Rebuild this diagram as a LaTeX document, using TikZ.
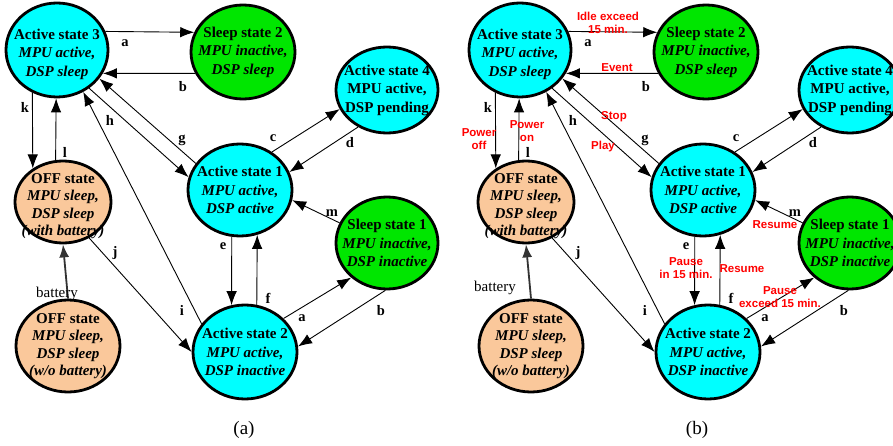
\documentclass[tikz,border=0pt]{standalone}
\usepackage{fontspec}
\setmainfont{Liberation Serif}
\newfontfamily\labelsans{Liberation Sans}
\usetikzlibrary{shapes.geometric,arrows.meta}

\definecolor{stcyan}{HTML}{00FFFF}
\definecolor{stgreen}{HTML}{00E600}
\definecolor{stpeach}{HTML}{FAC89B}
\definecolor{batgray}{HTML}{333333}

\tikzset{
  stbox/.style={ellipse, draw=black, line width=2.8pt, inner sep=0pt},
  sttxt/.style={align=center, inner sep=0pt, font=\fontsize{15}{18.5}\selectfont\bfseries},
  offtxt/.style={align=center, inner sep=0pt, font=\fontsize{15}{17.5}\selectfont\bfseries\itshape},
  edge/.style={line width=0.9pt, -{Latex[length=14pt,width=10.5pt]}},
  batedge/.style={line width=1.8pt, draw=batgray, -{Latex[length=13pt,width=10pt]}},
  lbl/.style={inner sep=0pt, font=\fontsize{14.5}{14.5}\selectfont\bfseries},
  ev/.style={inner sep=0pt, align=center, text=red, font=\labelsans\fontsize{11.5}{13.5}\selectfont\bfseries},
  plain/.style={inner sep=0pt, font=\fontsize{15}{15}\selectfont},
  caption/.style={inner sep=0pt, font=\fontsize{19}{19}\selectfont},
}

\newcommand\fsm[1]{%
  % states
  \node[stbox, fill=stcyan, minimum width=102pt, minimum height=94pt] (#1A3) at (57,50) {};
  \node[sttxt] (#1A3t) at (57,54) {Active state 3\\{\itshape MPU active,}\\{\itshape DSP sleep}};
  \node[stbox, fill=stgreen, minimum width=104pt, minimum height=94pt] (#1S2) at (243,52) {};
  \node[sttxt] (#1S2t) at (#1S2) {Sleep state 2\\{\itshape MPU inactive,}\\{\itshape DSP sleep}};
  \node[stbox, fill=stcyan, minimum width=102pt, minimum height=86pt] (#1A4) at (387,90) {};
  \node[sttxt] (#1A4t) at (#1A4) {Active state 4\\MPU active,\\DSP pending};
  \node[stbox, fill=stcyan, minimum width=104pt, minimum height=92pt] (#1A1) at (240,190) {};
  \node[sttxt] (#1A1t) at (#1A1) {Active state 1\\{\itshape MPU active,}\\{\itshape DSP active}};
  \node[stbox, fill=stgreen, minimum width=102pt, minimum height=92pt] (#1S1) at (387,243) {};
  \node[sttxt] (#1S1t) at (#1S1) {Sleep state 1\\{\itshape MPU inactive,}\\{\itshape DSP inactive}};
  \node[stbox, fill=stcyan, minimum width=104pt, minimum height=94pt] (#1A2) at (245,352) {};
  \node[sttxt] (#1A2t) at (#1A2) {Active state 2\\{\itshape MPU active,}\\{\itshape DSP inactive}};
  \node[stbox, fill=stpeach, minimum width=96pt, minimum height=82pt] (#1O1) at (63,202) {};
  \node[offtxt] (#1O1t) at (63,206) {{\upshape OFF state}\\MPU sleep,\\DSP sleep\\(with battery)};
  \node[stbox, fill=stpeach, minimum width=104pt, minimum height=92pt] (#1O2) at (68,346) {};
  \node[offtxt] (#1O2t) at (#1O2) {{\upshape OFF state}\\MPU sleep,\\DSP sleep\\(w/o battery)};
  % transitions
  \draw[edge] (#1A3.21) -- (#1S2.158);
  \draw[edge] (#1S2.204) -- (#1A3.333);
  \draw[edge] (#1A3.240) -- (#1O1.132);
  \draw[edge] (#1O1.100) -- (#1A3.269);
  \draw[edge] (#1A3.310) -- (#1A1.166);
  \draw[edge] (#1A1.149) -- (#1A3.326);
  \draw[edge] (#1A2.147) -- (#1A3.302);
  \draw[edge] (#1O1.306) -- (#1A2.180);
  \draw[edge] (#1A1.50) -- (#1A4.202);
  \draw[edge] (#1A4.232) -- (#1A1.20);
  \draw[edge] (#1S1.157) -- (#1A1.349);
  \draw[edge] (#1A1.260) -- (#1A2.106);
  \draw[edge] (#1A2.76) -- (#1A1.291);
  \draw[edge] (#1A2.41) -- (#1S1.224);
  \draw[edge] (#1S1.268) -- (#1A2.6);
  \draw[batedge] (#1O2.90) -- (#1O1.270);
  % letters
  \node[lbl] (#1la) at (125,43) {a};
  \node[lbl] (#1lb) at (183,87) {b};
  \node[lbl] (#1lk) at (25,107) {k};
  \node[lbl] (#1ll) at (65,152) {l};
  \node[lbl] (#1lh) at (110,120) {h};
  \node[lbl] (#1lg) at (182,140) {g};
  \node[lbl] (#1li) at (182,310) {i};
  \node[lbl] (#1lj) at (115,253) {j};
  \node[lbl] (#1lc) at (273,138) {c};
  \node[lbl] (#1ld) at (350,143) {d};
  \node[lbl] (#1lm) at (332,213) {m};
  \node[lbl] (#1le) at (223,246) {e};
  \node[lbl] (#1lf) at (268,298) {f};
  \node[lbl] (#1lat) at (302,318) {a};
  \node[lbl] (#1lbt) at (381,311) {b};
}

\begin{document}
\begin{tikzpicture}[x=1pt,y=-1pt]
  \useasboundingbox (0,0) rectangle (893,446);
  \clip (0,0) rectangle (893,446);
  \fsm{L}
  \node[plain] (Lbat) at (57,294) {battery};
  \node[caption] (capa) at (244,430) {(a)};
  \begin{scope}[xshift=463pt]
    \fsm{R}
    \node[ev] (evidle) at (145,23) {Idle exceed\\15 min.};
    \node[ev] (evevent) at (154,68) {Event};
    \node[ev] (evpoff) at (16,139) {Power\\off};
    \node[ev] (evpon) at (64,131) {Power\\on};
    \node[ev] (evstop) at (151,117) {Stop};
    \node[ev] (evplay) at (140,147) {Play};
    \node[ev] (evpausein) at (223,268) {Pause\\in 15 min.};
    \node[ev] (evresf) at (279,269) {Resume};
    \node[ev] (evresm) at (312,225) {Resume};
    \node[ev] (evpauseex) at (317,297) {Pause\\exceed 15 min.};
  \end{scope}
  \node[plain] (Rbat) at (495,288) {battery};
  \node[caption] (capb) at (697,430) {(b)};
\end{tikzpicture}
\end{document}
